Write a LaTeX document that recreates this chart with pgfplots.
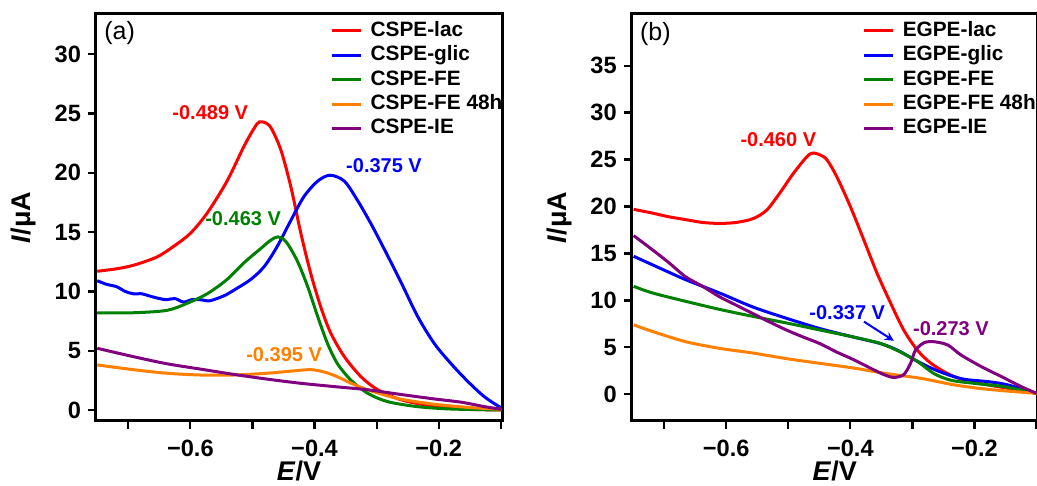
\documentclass[border=0pt]{standalone}
\usepackage{fontspec}
\setmainfont{Liberation Sans}
\usepackage{pgfplots}
\pgfplotsset{compat=1.18}

\definecolor{cred}{RGB}{255,0,0}
\definecolor{cblue}{RGB}{0,0,255}
\definecolor{cgreen}{RGB}{0,128,0}
\definecolor{corange}{RGB}{255,128,0}
\definecolor{cpurple}{RGB}{128,0,128}

\newcommand{\fTick}{\fontsize{11.8}{14}\selectfont\bfseries}
\newcommand{\fLeg}{\fontsize{10.4}{12}\selectfont\bfseries}
\newcommand{\fAnn}{\fontsize{10}{12}\selectfont\bfseries}
\newcommand{\fLab}{\fontsize{13.5}{16}\selectfont\bfseries}

\pgfplotsset{
  panel/.style={
    scale only axis, width=203pt, height=203.5pt,
    anchor=south west,
    xmin=-0.752, xmax=-0.098,
    xtick={-0.7,-0.6,-0.5,-0.4,-0.3,-0.2,-0.1},
    xticklabels={,−0.6,,−0.4,,−0.2,},
    tick pos=left, tick align=outside,
    major tick length=4pt,
    tick style={line width=1.1pt, black},
    axis line style={line width=1.5pt},
    tick label style={font=\fTick},
    /pgf/number format/assume math mode=true,
    xticklabel style={yshift=-2pt},
    legend cell align=left,
    legend style={draw=none, fill=none, inner sep=0pt, font=\fLeg,
      row sep=2.7pt, column sep=4pt,
      nodes={inner sep=0pt, text height=7.5pt, text depth=2pt}},
    legend image code/.code={\draw[#1] (0pt,0pt) -- (14.7pt,0pt);},
    every axis plot/.append style={line width=1.5pt, smooth},
  },
}

\begin{document}
\begin{tikzpicture}
\useasboundingbox (-48pt,-32.5pt) rectangle (470.5pt,210.5pt);

% ---------------- panel (a) ----------------
\begin{axis}[panel, name=a, at={(0pt,0pt)},
  ymin=-0.93, ymax=33.4, ytick={0,5,10,15,20,25,30},
  legend style={at={(rel axis cs:0.576,0.983)}, anchor=north west}]
\addplot[cred] coordinates {(-0.750,11.7) (-0.720,11.9) (-0.692,12.2) (-0.654,12.9) (-0.627,13.8) (-0.600,14.9) (-0.573,16.6) (-0.541,19.3) (-0.514,22.2) (-0.498,23.7) (-0.489,24.3) (-0.478,24.2) (-0.469,23.7) (-0.454,21.9) (-0.438,18.8) (-0.422,14.9) (-0.406,11.5) (-0.390,8.7) (-0.374,6.5) (-0.352,4.5) (-0.325,2.8) (-0.298,1.7) (-0.260,0.85) (-0.207,0.3) (-0.153,0.06) (-0.099,0)};
\addlegendentry{CSPE-lac}
\addplot[cblue] coordinates {(-0.750,10.9) (-0.735,10.6) (-0.719,10.4) (-0.705,10.0) (-0.692,9.8) (-0.678,9.8) (-0.665,9.6) (-0.650,9.4) (-0.638,9.3) (-0.625,9.4) (-0.611,9.1) (-0.598,9.3) (-0.584,9.3) (-0.570,9.2) (-0.557,9.4) (-0.543,9.7) (-0.530,10.1) (-0.503,11.0) (-0.481,12.1) (-0.460,13.8) (-0.438,16.0) (-0.417,18.0) (-0.395,19.3) (-0.375,19.8) (-0.352,19.3) (-0.331,17.7) (-0.309,15.7) (-0.287,13.5) (-0.260,10.7) (-0.234,7.9) (-0.207,5.6) (-0.180,3.9) (-0.153,2.4) (-0.126,1.1) (-0.100,0.2)};
\addlegendentry{CSPE-glic}
\addplot[cgreen] coordinates {(-0.750,8.2) (-0.692,8.2) (-0.638,8.4) (-0.605,9.0) (-0.573,9.8) (-0.541,11.0) (-0.514,12.4) (-0.487,13.6) (-0.471,14.3) (-0.459,14.6) (-0.446,14.2) (-0.428,12.6) (-0.411,10.4) (-0.395,7.9) (-0.379,5.6) (-0.363,3.9) (-0.341,2.5) (-0.314,1.4) (-0.282,0.7) (-0.234,0.28) (-0.180,0.08) (-0.099,0)};
\addlegendentry{CSPE-FE}
\addplot[corange] coordinates {(-0.750,3.8) (-0.692,3.4) (-0.638,3.1) (-0.584,2.95) (-0.530,2.95) (-0.476,3.1) (-0.433,3.3) (-0.406,3.4) (-0.384,3.2) (-0.363,2.8) (-0.341,2.25) (-0.314,1.7) (-0.287,1.26) (-0.260,0.9) (-0.207,0.48) (-0.153,0.22) (-0.099,0.06)};
\addlegendentry{CSPE-FE 48h}
\addplot[cpurple] coordinates {(-0.750,5.2) (-0.692,4.5) (-0.638,3.9) (-0.584,3.45) (-0.530,3.0) (-0.476,2.6) (-0.422,2.25) (-0.368,1.97) (-0.314,1.7) (-0.260,1.3) (-0.207,0.93) (-0.163,0.65) (-0.126,0.28) (-0.099,0.06)};
\addlegendentry{CSPE-IE}
\node[font=\fontsize{12.5}{14}\selectfont] at (axis cs:-0.714,31.8) {(a)};
\node[font=\fAnn, text=cred] at (axis cs:-0.568,25.1) {-0.489 V};
\node[font=\fAnn, text=cblue] at (axis cs:-0.288,20.6) {-0.375 V};
\node[font=\fAnn, text=cgreen] at (axis cs:-0.515,16.1) {-0.463 V};
\node[font=\fAnn, text=corange] at (axis cs:-0.449,4.7) {-0.395 V};
\end{axis}

% ---------------- panel (b) ----------------
\begin{axis}[panel, name=b, at={(267.9pt,0pt)},
  ymin=-2.84, ymax=40.5, ytick={0,5,10,15,20,25,30,35},
  legend style={at={(rel axis cs:0.567,0.983)}, anchor=north west}]
\addplot[cred] coordinates {(-0.749,19.7) (-0.719,19.3) (-0.692,18.9) (-0.665,18.6) (-0.638,18.3) (-0.611,18.2) (-0.584,18.3) (-0.557,18.7) (-0.535,19.6) (-0.514,21.4) (-0.492,23.5) (-0.470,25.3) (-0.460,25.7) (-0.449,25.5) (-0.438,25.0) (-0.422,23.2) (-0.400,20.0) (-0.378,16.4) (-0.357,12.9) (-0.335,9.7) (-0.314,6.85) (-0.292,4.7) (-0.270,3.3) (-0.243,2.2) (-0.216,1.5) (-0.178,1.0) (-0.146,0.64) (-0.100,0.1)};
\addlegendentry{EGPE-lac}
\addplot[cblue] coordinates {(-0.749,14.7) (-0.719,13.8) (-0.665,12.2) (-0.611,10.8) (-0.557,9.3) (-0.503,8.1) (-0.449,7.0) (-0.395,6.1) (-0.351,5.4) (-0.324,4.7) (-0.297,3.7) (-0.270,2.8) (-0.243,2.1) (-0.216,1.6) (-0.178,1.35) (-0.146,1.0) (-0.100,0.1)};
\addlegendentry{EGPE-glic}
\addplot[cgreen] coordinates {(-0.749,11.5) (-0.719,10.8) (-0.665,9.9) (-0.611,9.05) (-0.557,8.3) (-0.503,7.6) (-0.449,6.85) (-0.395,6.1) (-0.351,5.4) (-0.319,4.5) (-0.292,3.5) (-0.265,2.2) (-0.238,1.5) (-0.205,1.2) (-0.151,0.8) (-0.100,0.1)};
\addlegendentry{EGPE-FE}
\addplot[corange] coordinates {(-0.749,7.4) (-0.719,6.7) (-0.665,5.6) (-0.611,4.9) (-0.557,4.4) (-0.503,3.8) (-0.449,3.3) (-0.395,2.8) (-0.341,2.2) (-0.286,1.7) (-0.232,1.0) (-0.178,0.53) (-0.100,0.1)};
\addlegendentry{EGPE-FE 48h}
\addplot[cpurple] coordinates {(-0.749,16.9) (-0.719,15.4) (-0.692,14.0) (-0.665,12.5) (-0.638,11.5) (-0.611,10.4) (-0.584,9.5) (-0.557,8.6) (-0.530,7.7) (-0.503,6.85) (-0.476,6.1) (-0.449,5.4) (-0.422,4.5) (-0.395,3.7) (-0.368,2.8) (-0.346,2.1) (-0.330,1.8) (-0.314,2.1) (-0.303,3.3) (-0.295,4.7) (-0.281,5.5) (-0.265,5.6) (-0.243,5.25) (-0.222,4.2) (-0.189,2.95) (-0.157,1.9) (-0.124,0.8) (-0.100,0.1)};
\addlegendentry{EGPE-IE}
\node[font=\fontsize{12.5}{14}\selectfont] at (axis cs:-0.714,38.4) {(b)};
\node[font=\fAnn, text=cred] at (axis cs:-0.516,27.1) {-0.460 V};
\node[font=\fAnn, text=cblue] at (axis cs:-0.405,8.7) {-0.337 V};
\node[font=\fAnn, text=cpurple] at (axis cs:-0.238,7.0) {-0.273 V};
\draw[cblue, line width=1pt, -stealth] (axis cs:-0.378,7.74) -- (axis cs:-0.330,5.7);
\end{axis}

% ---------------- axis labels ----------------
\node[font=\fLab, anchor=base] at ([yshift=-30pt]a.south) {\textit{E}/V};
\node[font=\fLab, anchor=base] at ([yshift=-30pt]b.south) {\textit{E}/V};
\node[font=\fLab, rotate=90] at ([xshift=-36.5pt]a.west) {\textit{I}/μA};
\node[font=\fLab, rotate=90] at ([xshift=-36pt]b.west) {\textit{I}/μA};
\end{tikzpicture}
\end{document}
